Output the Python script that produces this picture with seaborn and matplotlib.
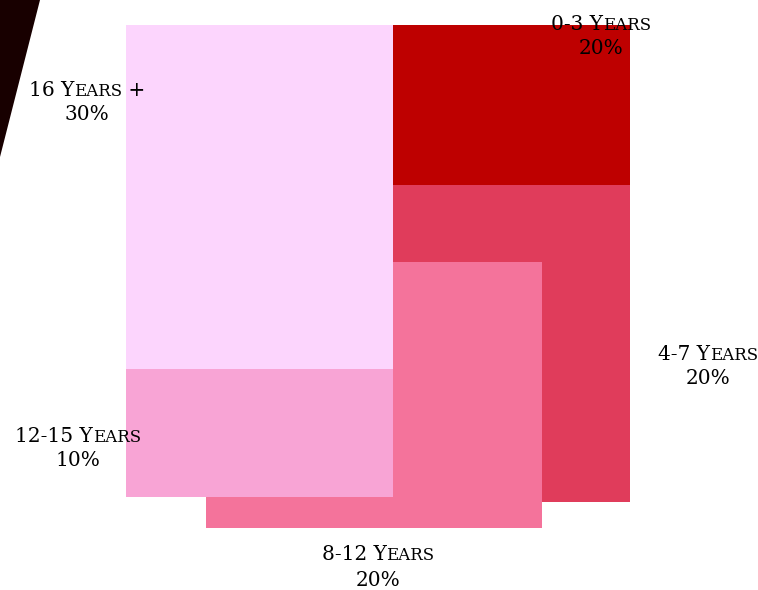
import matplotlib
matplotlib.use("Agg")
import matplotlib.pyplot as plt
import seaborn as sns
from matplotlib.offsetbox import TextArea, HPacker, AnnotationBbox

sns.set_theme(style="white")
plt.rcParams["font.family"] = ["DejaVu Serif"]

# Tenure groups and their share of staff
categories = ["0-3 Years", "4-7 Years", "8-12 Years", "12-15 Years", "16 Years +"]
shares = [20, 20, 20, 10, 30]
colors = ["#BE0000", "#E03C5B", "#F4739B", "#F8A4D5", "#FCD5FD"]

# Block placement (left, top, width, height) in canvas units, drawn back to front
blocks = {
    "4-7 Years": (300, 185, 330, 317),
    "0-3 Years": (363, 25, 267, 160),
    "8-12 Years": (206, 262, 336, 266),
    "16 Years +": (126, 25, 267, 344),
    "12-15 Years": (126, 369, 267, 128),
}
# Label centres (x, first line y)
label_pos = {
    "0-3 Years": (601, 24),
    "4-7 Years": (708, 354),
    "8-12 Years": (378, 555),
    "12-15 Years": (78, 436),
    "16 Years +": (87, 90),
}

fig = plt.figure(figsize=(7.58, 5.90), dpi=100)
ax = fig.add_axes([0, 0, 1, 1])
ax.set_xlim(0, 758)
ax.set_ylim(590, 0)
ax.axis("off")

# dark wedge in the corner
ax.fill([0, 40, 0], [0, 0, 157], color="#180000", lw=0, zorder=1)

color_of = dict(zip(categories, colors))
for name, (x0, y0, w, h) in blocks.items():
    ax.bar(x0, h, width=w, bottom=y0, align="edge", color=color_of[name],
           linewidth=0, zorder=2)

BIG = 14.5
SMALL = 12


def small_caps_line(text, size=BIG, small=SMALL):
    runs = []
    for ch in text:
        is_small = ch.islower()
        if runs and runs[-1][1] == is_small:
            runs[-1][0] += ch
        else:
            runs.append([ch, is_small])
    parts = [
        TextArea(s.upper() if sm else s,
                 textprops=dict(fontsize=small if sm else size, color="#000000"))
        for s, sm in runs
    ]
    return HPacker(children=parts, align="baseline", pad=0, sep=0)


for name, val in zip(categories, shares):
    cx, cy = label_pos[name]
    for i, line in enumerate([name, f"{val}%"]):
        box = small_caps_line(line)
        ab = AnnotationBbox(box, (cx, cy + i * 25), xycoords="data",
                            frameon=False, box_alignment=(0.5, 0.5), pad=0)
        ab.set_zorder(5)
        ax.add_artist(ab)

fig.savefig("out.png", dpi=100)
